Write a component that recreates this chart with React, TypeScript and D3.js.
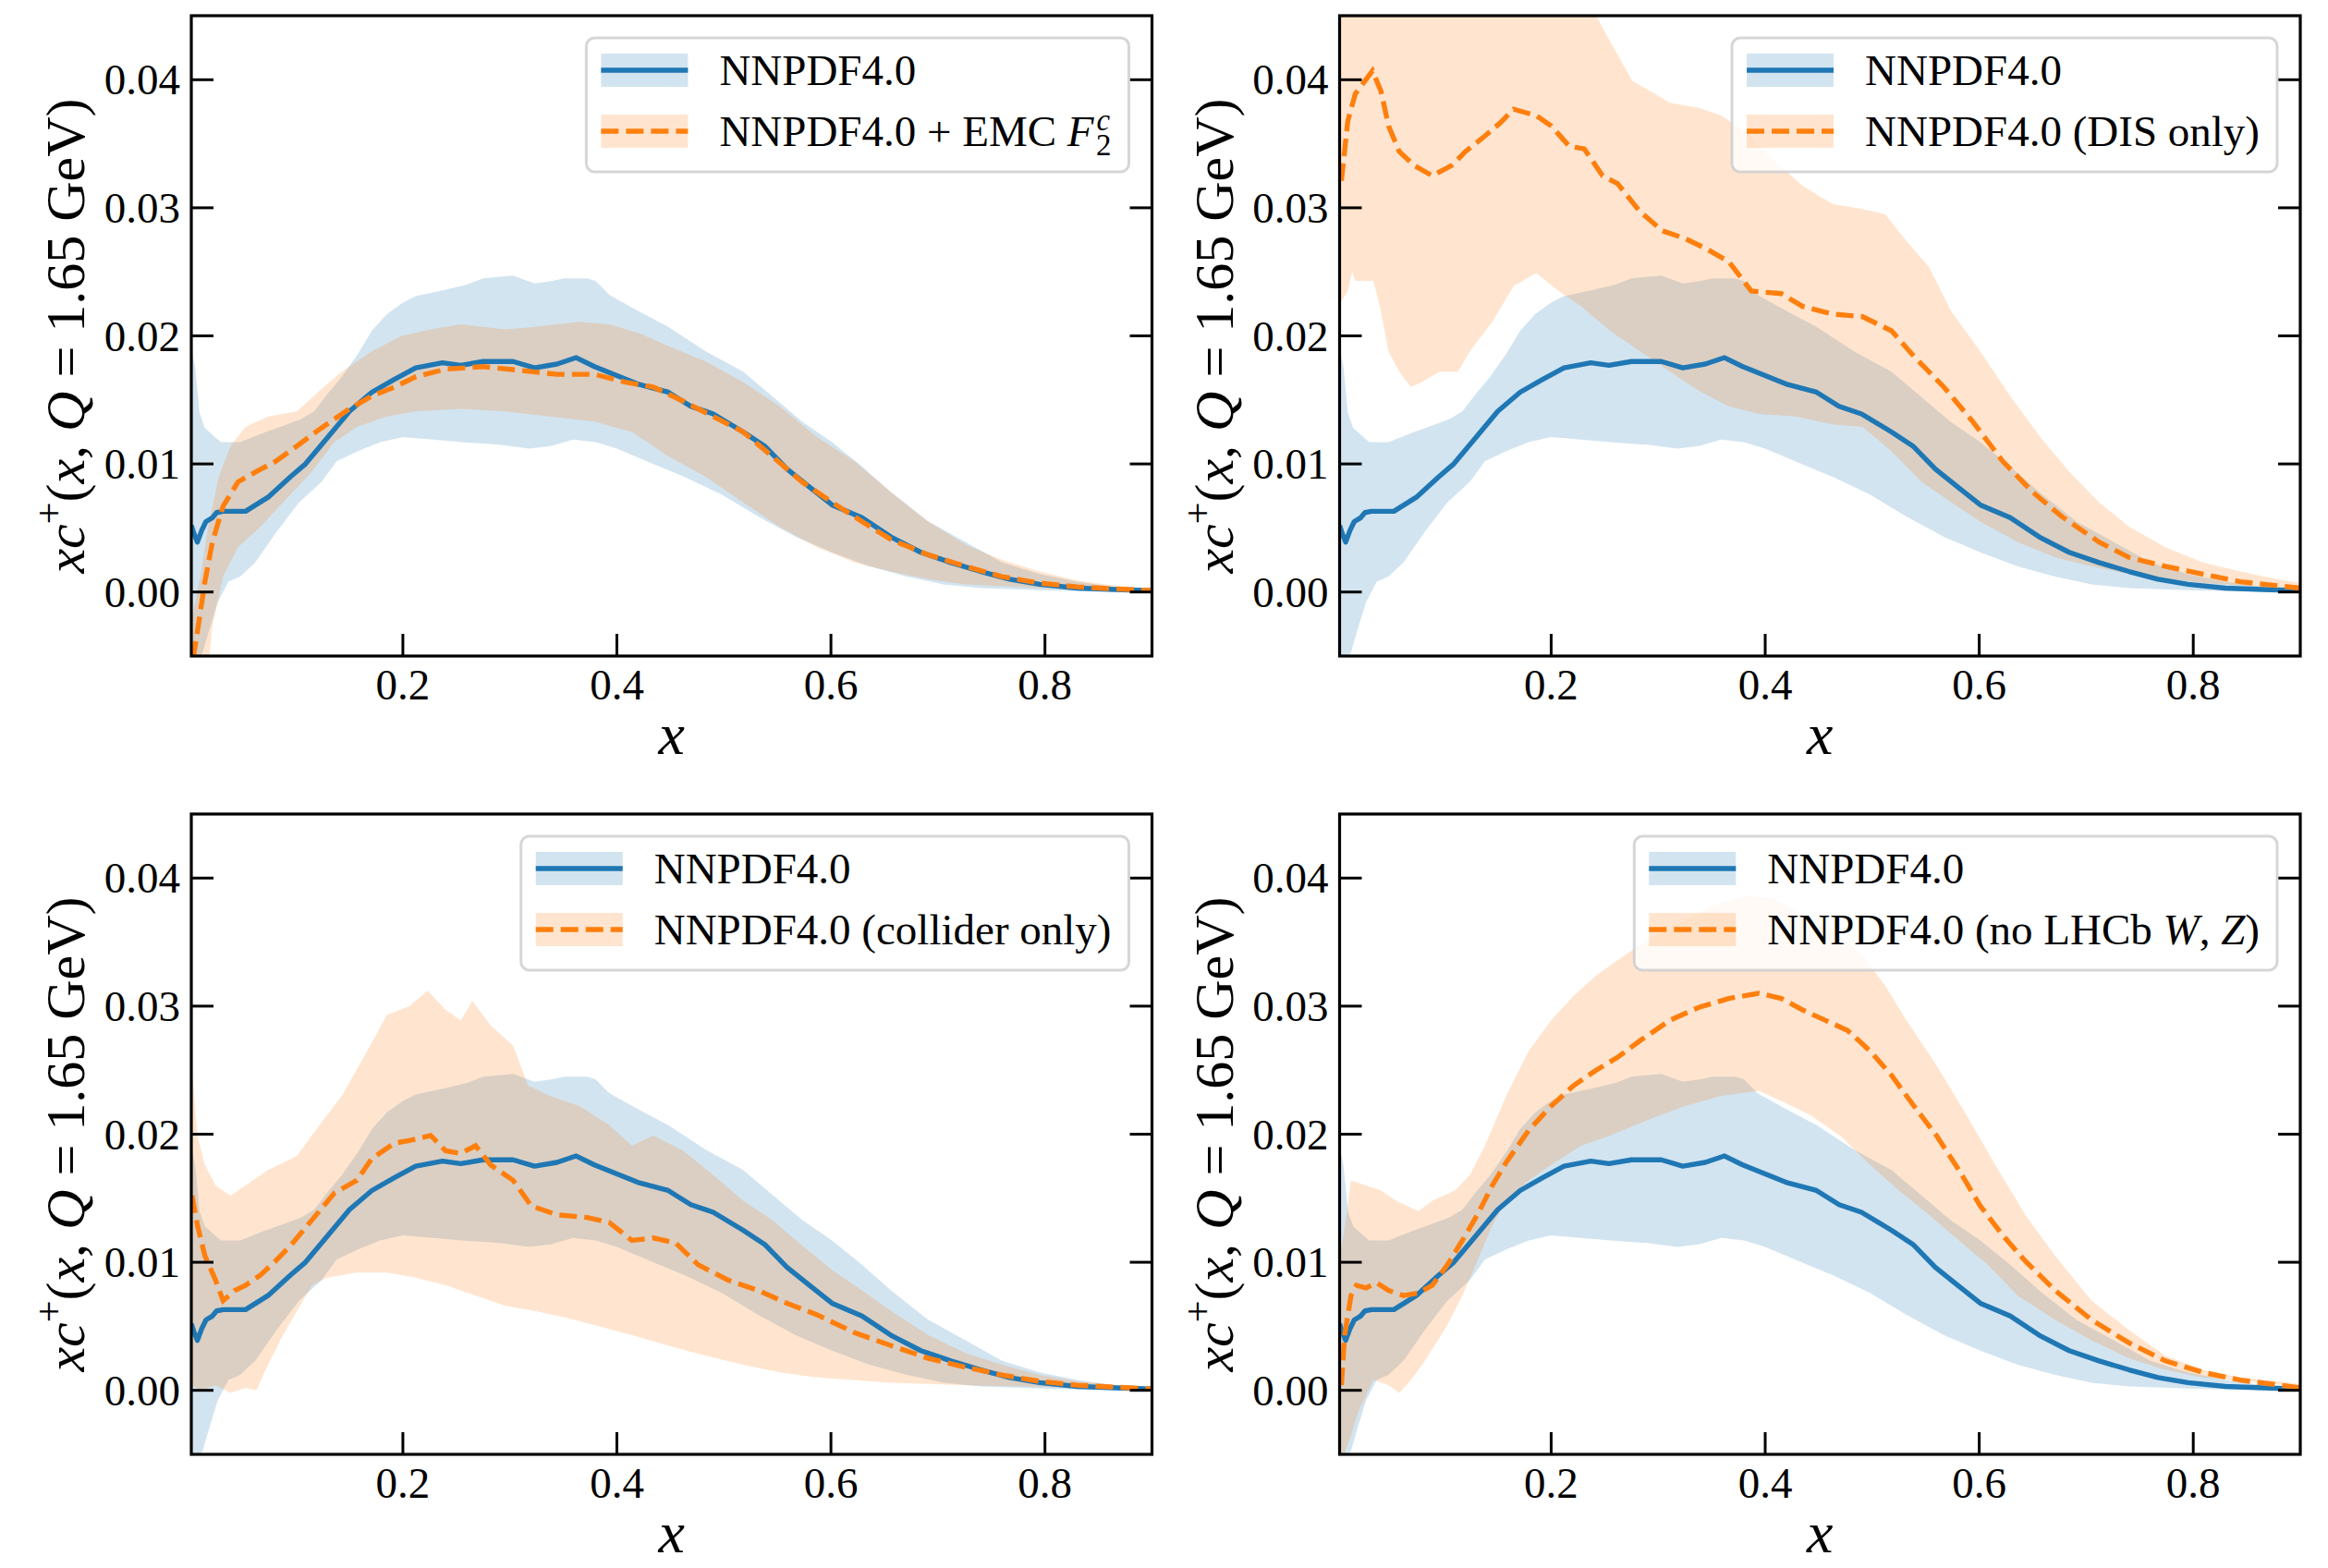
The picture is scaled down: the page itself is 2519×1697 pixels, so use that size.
import React, { useLayoutEffect, useRef, useState } from 'react';
import * as d3 from 'd3';

type P = [number, number];

// ---------- axes ----------
const X_DOMAIN: [number, number] = [0.0023, 0.9];
const Y_DOMAIN: [number, number] = [-0.005, 0.045];
const X_TICKS = [0.2, 0.4, 0.6, 0.8];
const X_TICK_LABELS = ['0.2', '0.4', '0.6', '0.8'];
const Y_TICKS = [0, 0.01, 0.02, 0.03, 0.04];
const Y_TICK_LABELS = ['0.00', '0.01', '0.02', '0.03', '0.04'];

// ---------- NNPDF4.0 baseline (same in all panels) ----------
const BLUE_MEAN: P[] = [
  [0.0023, 0.0052], [0.005, 0.0045], [0.008, 0.0039], [0.012, 0.0048], [0.016, 0.0055], [0.022, 0.0058],
  [0.026, 0.0062], [0.032, 0.0063], [0.053, 0.0063], [0.074, 0.0074], [0.095, 0.009], [0.109, 0.0100],
  [0.13, 0.0121], [0.15, 0.0141], [0.171, 0.0156], [0.192, 0.0166], [0.212, 0.0175], [0.237, 0.0179],
  [0.254, 0.0177], [0.275, 0.0180], [0.303, 0.0180], [0.323, 0.0175], [0.344, 0.0178], [0.362, 0.0183],
  [0.379, 0.0176], [0.4, 0.0169], [0.421, 0.0162], [0.448, 0.0156], [0.469, 0.0145], [0.49, 0.0139],
  [0.518, 0.0125], [0.538, 0.0114], [0.559, 0.0096], [0.58, 0.0082], [0.601, 0.0068], [0.629, 0.0058],
  [0.656, 0.0043], [0.684, 0.0031], [0.712, 0.0023], [0.74, 0.0016], [0.767, 0.001], [0.795, 0.0006],
  [0.83, 0.0003], [0.865, 0.0002], [0.9, 0.0001],
];
const BLUE_UP: P[] = [
  [0.0023, 0.019], [0.006, 0.0175], [0.01, 0.014], [0.015, 0.0128], [0.023, 0.0122], [0.03, 0.0117],
  [0.048, 0.0117], [0.069, 0.0124], [0.089, 0.013], [0.105, 0.0135], [0.117, 0.0141], [0.13, 0.0155],
  [0.143, 0.0168], [0.158, 0.0186], [0.171, 0.0204], [0.185, 0.0217], [0.2, 0.0226], [0.212, 0.0231],
  [0.24, 0.0236], [0.26, 0.024], [0.275, 0.0245], [0.303, 0.0247], [0.323, 0.0241], [0.34, 0.0243],
  [0.351, 0.0245], [0.372, 0.0245], [0.38, 0.0243], [0.393, 0.0232], [0.41, 0.0224], [0.421, 0.0219],
  [0.448, 0.0207], [0.483, 0.0188], [0.518, 0.0172], [0.545, 0.0153], [0.573, 0.0133], [0.601, 0.0117],
  [0.629, 0.0098], [0.656, 0.0078], [0.691, 0.0055], [0.726, 0.0039], [0.76, 0.0023], [0.795, 0.0014],
  [0.83, 0.0008], [0.865, 0.0004], [0.9, 0.0002],
];
const BLUE_LO: P[] = [
  [0.0023, -0.006], [0.013, -0.0047], [0.02, -0.0027], [0.027, -0.0008], [0.037, 0.0008], [0.048, 0.0012],
  [0.062, 0.0023], [0.082, 0.0047], [0.103, 0.007], [0.124, 0.0086], [0.138, 0.0102], [0.158, 0.011],
  [0.179, 0.0117], [0.2, 0.0121], [0.228, 0.0119], [0.255, 0.0117], [0.29, 0.0115], [0.318, 0.0112],
  [0.338, 0.0114], [0.359, 0.0119], [0.38, 0.0117], [0.4, 0.0112], [0.428, 0.0102], [0.463, 0.009],
  [0.498, 0.0076], [0.532, 0.0059], [0.567, 0.0043], [0.601, 0.0031], [0.636, 0.002], [0.671, 0.0012],
  [0.705, 0.0006], [0.74, 0.0003], [0.809, 0.0001], [0.9, 0],
];

// ---------- NNPDF4.0 + EMC F2c ----------
const EMC_MEAN: P[] = [
  [0.004, -0.0052], [0.008, -0.0031], [0.015, 0.0008], [0.022, 0.0039], [0.032, 0.0067], [0.046, 0.0086],
  [0.063, 0.0094], [0.081, 0.0102], [0.101, 0.0114], [0.122, 0.0127], [0.15, 0.0143], [0.171, 0.0153],
  [0.192, 0.016], [0.212, 0.0168], [0.24, 0.0174], [0.275, 0.0176], [0.31, 0.0173], [0.344, 0.017],
  [0.379, 0.017], [0.407, 0.0164], [0.434, 0.016], [0.462, 0.0149], [0.49, 0.0137], [0.518, 0.0125],
  [0.545, 0.0106], [0.573, 0.0086], [0.601, 0.007], [0.629, 0.0055], [0.656, 0.0041], [0.691, 0.0029],
  [0.726, 0.002], [0.76, 0.0012], [0.795, 0.0007], [0.83, 0.0004], [0.9, 0.0001],
];
const EMC_UP: P[] = [
  [0.0023, -0.0022], [0.011, 0.0012], [0.018, 0.0051], [0.028, 0.009], [0.039, 0.0114], [0.053, 0.0129],
  [0.074, 0.0137], [0.101, 0.0141], [0.122, 0.0157], [0.143, 0.0172], [0.171, 0.0188], [0.199, 0.02],
  [0.226, 0.0205], [0.254, 0.0209], [0.296, 0.0205], [0.323, 0.0207], [0.365, 0.0211], [0.393, 0.0209],
  [0.421, 0.0202], [0.448, 0.0192], [0.483, 0.018], [0.518, 0.0164], [0.552, 0.0145], [0.587, 0.0121],
  [0.622, 0.0102], [0.656, 0.0078], [0.691, 0.0055], [0.726, 0.0037], [0.76, 0.0025], [0.795, 0.0016],
  [0.83, 0.0009], [0.865, 0.0005], [0.9, 0.0002],
];
const EMC_LO: P[] = [
  [0.0023, -0.006], [0.018, -0.006], [0.022, -0.0027], [0.032, 0.0012], [0.046, 0.0035], [0.067, 0.0051],
  [0.088, 0.007], [0.115, 0.0094], [0.136, 0.0117], [0.157, 0.0129], [0.185, 0.0137], [0.212, 0.0141],
  [0.254, 0.0143], [0.296, 0.0141], [0.337, 0.0137], [0.379, 0.0133], [0.414, 0.0125], [0.448, 0.0106],
  [0.483, 0.009], [0.518, 0.007], [0.552, 0.0051], [0.587, 0.0035], [0.622, 0.0023], [0.656, 0.0016],
  [0.691, 0.001], [0.726, 0.0006], [0.795, 0.0003], [0.9, 0.0001],
];

// ---------- NNPDF4.0 (DIS only) ----------
const DIS_MEAN: P[] = [
  [0.004, 0.0321], [0.01, 0.0368], [0.017, 0.0389], [0.026, 0.0399], [0.033, 0.0407], [0.041, 0.0391],
  [0.048, 0.0364], [0.058, 0.0344], [0.072, 0.0333], [0.089, 0.0325], [0.107, 0.0333], [0.12, 0.0344],
  [0.138, 0.0356], [0.152, 0.0366], [0.165, 0.0377], [0.186, 0.0372], [0.2, 0.0364], [0.217, 0.0348],
  [0.231, 0.0346], [0.248, 0.0325], [0.262, 0.0319], [0.283, 0.0297], [0.304, 0.0282], [0.325, 0.0276],
  [0.345, 0.0268], [0.366, 0.0258], [0.387, 0.0235], [0.415, 0.0233], [0.435, 0.0223], [0.463, 0.0217],
  [0.491, 0.0215], [0.518, 0.0204], [0.539, 0.0184], [0.567, 0.016], [0.594, 0.0133], [0.622, 0.0102],
  [0.65, 0.0078], [0.677, 0.0059], [0.712, 0.0039], [0.74, 0.0027], [0.774, 0.002], [0.809, 0.0014],
  [0.844, 0.0008], [0.9, 0.0003],
];
const DIS_UP: P[] = [
  [0.0023, 0.05], [0.235, 0.05], [0.242, 0.045], [0.255, 0.043], [0.276, 0.0399], [0.297, 0.0389],
  [0.311, 0.0382], [0.338, 0.0378], [0.359, 0.0372], [0.38, 0.036], [0.408, 0.0337], [0.435, 0.0317],
  [0.463, 0.0303], [0.491, 0.0299], [0.512, 0.0295], [0.532, 0.0274], [0.553, 0.0254], [0.574, 0.0219],
  [0.601, 0.0188], [0.629, 0.0153], [0.657, 0.0121], [0.684, 0.0094], [0.712, 0.007], [0.74, 0.0051],
  [0.774, 0.0035], [0.809, 0.0023], [0.844, 0.0016], [0.878, 0.001], [0.9, 0.0007],
];
const DIS_LO: P[] = [
  [0.0023, 0.0225], [0.01, 0.0235], [0.014, 0.025], [0.017, 0.0243], [0.034, 0.0243], [0.041, 0.0219],
  [0.048, 0.0188], [0.058, 0.0172], [0.069, 0.016], [0.079, 0.0164], [0.096, 0.0172], [0.113, 0.0172],
  [0.124, 0.0188], [0.145, 0.0211], [0.165, 0.0239], [0.186, 0.0249], [0.207, 0.0235], [0.228, 0.0223],
  [0.255, 0.0204], [0.283, 0.0188], [0.311, 0.0172], [0.338, 0.0157], [0.366, 0.0145], [0.394, 0.0139],
  [0.428, 0.0137], [0.463, 0.0131], [0.491, 0.0129], [0.518, 0.011], [0.546, 0.0086], [0.574, 0.007],
  [0.601, 0.0055], [0.636, 0.0039], [0.671, 0.0027], [0.705, 0.002], [0.74, 0.0014], [0.809, 0.0007],
  [0.9, 0.0002],
];

// ---------- NNPDF4.0 (collider only) ----------
const COL_MEAN: P[] = [
  [0.003, 0.0152], [0.008, 0.0129], [0.015, 0.0105], [0.025, 0.0086], [0.032, 0.007], [0.043, 0.0078],
  [0.053, 0.0082], [0.067, 0.009], [0.081, 0.0101], [0.095, 0.0113], [0.115, 0.0133], [0.136, 0.0154],
  [0.157, 0.0164], [0.171, 0.0181], [0.192, 0.0193], [0.206, 0.0195], [0.226, 0.0199], [0.24, 0.0187],
  [0.254, 0.0185], [0.268, 0.0191], [0.282, 0.0176], [0.303, 0.0164], [0.32, 0.0144], [0.344, 0.0137],
  [0.372, 0.0135], [0.393, 0.0131], [0.414, 0.0117], [0.434, 0.0119], [0.455, 0.0115], [0.476, 0.0098],
  [0.504, 0.0086], [0.532, 0.0078], [0.559, 0.0068], [0.587, 0.0059], [0.622, 0.0045], [0.656, 0.0035],
  [0.691, 0.0025], [0.726, 0.0018], [0.76, 0.0012], [0.795, 0.0007], [0.83, 0.0004], [0.9, 0.0001],
];
const COL_UP: P[] = [
  [0.0023, 0.0258], [0.008, 0.0199], [0.015, 0.0176], [0.025, 0.016], [0.039, 0.0152], [0.053, 0.016],
  [0.074, 0.0172], [0.101, 0.0183], [0.122, 0.0207], [0.143, 0.023], [0.164, 0.0261], [0.185, 0.0293],
  [0.206, 0.03], [0.223, 0.0312], [0.24, 0.0297], [0.254, 0.0289], [0.265, 0.0304], [0.282, 0.0285],
  [0.303, 0.0269], [0.317, 0.0238], [0.337, 0.023], [0.365, 0.0222], [0.393, 0.0207], [0.414, 0.0191],
  [0.434, 0.0199], [0.462, 0.0187], [0.49, 0.0168], [0.518, 0.0148], [0.545, 0.0133], [0.573, 0.0113],
  [0.601, 0.0094], [0.629, 0.0078], [0.656, 0.0062], [0.691, 0.0043], [0.726, 0.0029], [0.76, 0.002],
  [0.795, 0.0012], [0.83, 0.0007], [0.9, 0.0002],
];
const COL_LO: P[] = [
  [0.0023, 0.0004], [0.011, 0.0], [0.025, 0.0004], [0.039, -0.0002], [0.053, 0.0002], [0.063, 0.0],
  [0.074, 0.002], [0.088, 0.0043], [0.101, 0.0062], [0.115, 0.0082], [0.129, 0.0088], [0.157, 0.0092],
  [0.185, 0.0092], [0.212, 0.0088], [0.24, 0.0082], [0.268, 0.0074], [0.296, 0.0066], [0.323, 0.0062],
  [0.351, 0.0057], [0.379, 0.0051], [0.414, 0.0043], [0.448, 0.0035], [0.483, 0.0027], [0.518, 0.002],
  [0.552, 0.0014], [0.587, 0.001], [0.656, 0.0006], [0.726, 0.0004], [0.9, 0.0001],
];

// ---------- NNPDF4.0 (no LHCb W, Z) ----------
const NOLHCB_MEAN: P[] = [
  [0.004, 0.0004], [0.007, 0.0043], [0.013, 0.0074], [0.018, 0.0082], [0.027, 0.008], [0.037, 0.0084],
  [0.048, 0.0078], [0.062, 0.0074], [0.076, 0.0076], [0.089, 0.0082], [0.103, 0.0098], [0.117, 0.0117],
  [0.131, 0.0137], [0.145, 0.016], [0.158, 0.0178], [0.179, 0.0203], [0.2, 0.0222], [0.221, 0.0238],
  [0.242, 0.025], [0.262, 0.026], [0.283, 0.0273], [0.311, 0.0289], [0.338, 0.0299], [0.366, 0.0306],
  [0.394, 0.031], [0.415, 0.0306], [0.435, 0.0297], [0.456, 0.0289], [0.477, 0.0281], [0.498, 0.0265],
  [0.518, 0.0246], [0.539, 0.0222], [0.56, 0.0199], [0.581, 0.0172], [0.601, 0.0144], [0.622, 0.0121],
  [0.643, 0.0101], [0.671, 0.0078], [0.705, 0.0055], [0.74, 0.0037], [0.774, 0.0023], [0.809, 0.0014],
  [0.844, 0.0008], [0.9, 0.0002],
];
const NOLHCB_UP: P[] = [
  [0.0023, 0.0105], [0.006, 0.0121], [0.013, 0.0164], [0.027, 0.016], [0.041, 0.0156], [0.055, 0.0148],
  [0.076, 0.014], [0.089, 0.0148], [0.11, 0.0156], [0.124, 0.0168], [0.138, 0.0191], [0.158, 0.023],
  [0.179, 0.0265], [0.2, 0.0289], [0.221, 0.0308], [0.242, 0.0324], [0.269, 0.034], [0.297, 0.0355],
  [0.325, 0.0367], [0.352, 0.0379], [0.38, 0.0386], [0.408, 0.0384], [0.435, 0.0371], [0.463, 0.0359],
  [0.491, 0.034], [0.512, 0.0316], [0.532, 0.0289], [0.56, 0.0254], [0.588, 0.0215], [0.615, 0.0176],
  [0.643, 0.0137], [0.671, 0.0105], [0.705, 0.007], [0.74, 0.0047], [0.774, 0.0027], [0.809, 0.0016],
  [0.844, 0.001], [0.9, 0.0005],
];
const NOLHCB_LO: P[] = [
  [0.0023, -0.006], [0.013, -0.0035], [0.02, -0.0016], [0.034, 0.0008], [0.048, 0.0004], [0.058, -0.0002],
  [0.069, 0.0008], [0.082, 0.0023], [0.103, 0.0051], [0.117, 0.0074], [0.131, 0.0101], [0.145, 0.0129],
  [0.158, 0.0148], [0.179, 0.0164], [0.2, 0.0176], [0.228, 0.0191], [0.255, 0.0199], [0.29, 0.0211],
  [0.325, 0.0222], [0.359, 0.023], [0.394, 0.0234], [0.415, 0.0226], [0.442, 0.0215], [0.47, 0.0199],
  [0.498, 0.0176], [0.525, 0.0156], [0.553, 0.0137], [0.581, 0.0117], [0.608, 0.0098], [0.636, 0.0074],
  [0.671, 0.0055], [0.705, 0.0039], [0.74, 0.0025], [0.774, 0.0016], [0.809, 0.001], [0.9, 0.0003],
];

// ---------- styles ----------
const BLUE = '#1f77b4';
const ORANGE = '#ff7f0e';
const BAND_ALPHA = 0.2;
const FONT = "'Liberation Serif', 'DejaVu Serif', serif";
const TICK_FS = 47;
const LABEL_FS = 60;
const XLABEL_FS = 64;
const LINE_W = 5.4;
const DASH = '19,8';

const W = 2519;
const H = 1697;
const PANEL_W = 1039.5;
const PANEL_H = 693;
const PANEL_POS: P[] = [[207, 17], [1449.5, 17], [207, 881], [1449.5, 881]];

type Variant = 'emc' | 'dis' | 'col' | 'nolhcb';
const PANELS: { mean: P[]; up: P[]; lo: P[]; variant: Variant }[] = [
  { mean: EMC_MEAN, up: EMC_UP, lo: EMC_LO, variant: 'emc' },
  { mean: DIS_MEAN, up: DIS_UP, lo: DIS_LO, variant: 'dis' },
  { mean: COL_MEAN, up: COL_UP, lo: COL_LO, variant: 'col' },
  { mean: NOLHCB_MEAN, up: NOLHCB_UP, lo: NOLHCB_LO, variant: 'nolhcb' },
];

function OrangeLabel({ variant }: { variant: Variant }) {
  const sub = TICK_FS * 0.7;
  if (variant === 'emc') {
    return (
      <>
        <tspan>NNPDF4.0 + EMC </tspan>
        <tspan fontStyle="italic">F</tspan>
        <tspan fontSize={sub} fontStyle="italic" dx={3} dy={-TICK_FS * 0.36}>c</tspan>
        <tspan fontSize={sub} dx={-sub * 0.46} dy={TICK_FS * 0.58}>2</tspan>
      </>
    );
  }
  if (variant === 'dis') return <tspan>NNPDF4.0 (DIS only)</tspan>;
  if (variant === 'col') return <tspan>NNPDF4.0 (collider only)</tspan>;
  return (
    <>
      <tspan>NNPDF4.0 (no LHCb </tspan>
      <tspan fontStyle="italic">W</tspan>
      <tspan>, </tspan>
      <tspan fontStyle="italic">Z</tspan>
      <tspan>)</tspan>
    </>
  );
}

function Legend({ right, top, variant }: { right: number; top: number; variant: Variant }) {
  const r1 = useRef<SVGTextElement>(null);
  const r2 = useRef<SVGTextElement>(null);
  const [tw, setTw] = useState(430);
  useLayoutEffect(() => {
    const a = r1.current ? r1.current.getBBox().width : 0;
    const b = r2.current ? r2.current.getBBox().width : 0;
    const m = Math.max(a, b);
    if (m > 0 && Math.abs(m - tw) > 0.5) setTw(m);
  });
  const width = 144 + tw + 19;
  const left = right - width;
  const height = 145;
  const row1 = top + 35;
  const row2 = top + 101;
  const hx = left + 16;
  const hw = 94;
  const ph = 36;
  const tx = left + 144;
  return (
    <g>
      <rect x={left} y={top} width={width} height={height} rx={9} ry={9}
        fill="white" fillOpacity={0.8} stroke="#cccccc" strokeOpacity={0.8} strokeWidth={3} />
      <rect x={hx} y={row1 - ph / 2} width={hw} height={ph} fill={BLUE} fillOpacity={BAND_ALPHA} />
      <line x1={hx} x2={hx + hw} y1={row1} y2={row1} stroke={BLUE} strokeWidth={LINE_W} />
      <rect x={hx} y={row2 - ph / 2} width={hw} height={ph} fill={ORANGE} fillOpacity={BAND_ALPHA} />
      <line x1={hx} x2={hx + hw} y1={row2} y2={row2} stroke={ORANGE} strokeWidth={LINE_W} strokeDasharray={DASH} />
      <text ref={r1} x={tx} y={row1 + 16} fontSize={TICK_FS} fontFamily={FONT}>NNPDF4.0</text>
      <text ref={r2} x={tx} y={row2 + 16} fontSize={TICK_FS} fontFamily={FONT}>
        <OrangeLabel variant={variant} />
      </text>
    </g>
  );
}

function Panel({ idx }: { idx: number }) {
  const [left, top] = PANEL_POS[idx];
  const right = left + PANEL_W;
  const bottom = top + PANEL_H;
  const d = PANELS[idx];
  const xs = d3.scaleLinear().domain(X_DOMAIN).range([left, right]);
  const ys = d3.scaleLinear().domain(Y_DOMAIN).range([bottom, top]);
  const line = d3.line<P>().x((p) => xs(p[0])).y((p) => ys(p[1]));
  const band = (up: P[], lo: P[]) => (line([...up, ...lo.slice().reverse()]) || '') + 'Z';
  const clipId = `clip-${idx}`;
  const tickLen = 24;
  const yLabelX = left - 116;
  const cy = (top + bottom) / 2;
  return (
    <g>
      <defs>
        <clipPath id={clipId}>
          <rect x={left} y={top} width={PANEL_W} height={PANEL_H} />
        </clipPath>
      </defs>
      <g clipPath={`url(#${clipId})`}>
        <path d={band(BLUE_UP, BLUE_LO)} fill={BLUE} fillOpacity={BAND_ALPHA} stroke="none" />
        <path d={band(d.up, d.lo)} fill={ORANGE} fillOpacity={BAND_ALPHA} stroke="none" />
        <path d={line(BLUE_MEAN) || ''} fill="none" stroke={BLUE} strokeWidth={LINE_W} strokeLinejoin="round" />
        <path d={line(d.mean) || ''} fill="none" stroke={ORANGE} strokeWidth={LINE_W} strokeDasharray={DASH} />
      </g>
      {Y_TICKS.map((t, i) => (
        <g key={`y${i}`}>
          <line x1={left} x2={left + tickLen} y1={ys(t)} y2={ys(t)} stroke="black" strokeWidth={3} />
          <line x1={right} x2={right - tickLen} y1={ys(t)} y2={ys(t)} stroke="black" strokeWidth={3} />
          <text x={left - 12} y={ys(t) + 16} textAnchor="end" fontSize={TICK_FS} fontFamily={FONT}>
            {Y_TICK_LABELS[i]}
          </text>
        </g>
      ))}
      {X_TICKS.map((t, i) => (
        <g key={`x${i}`}>
          <line x1={xs(t)} x2={xs(t)} y1={bottom} y2={bottom - tickLen} stroke="black" strokeWidth={3} />
          <text x={xs(t)} y={bottom + 47} textAnchor="middle" fontSize={TICK_FS} fontFamily={FONT}>
            {X_TICK_LABELS[i]}
          </text>
        </g>
      ))}
      <rect x={left} y={top} width={PANEL_W} height={PANEL_H} fill="none" stroke="black" strokeWidth={3.2} />
      <text x={(left + right) / 2} y={bottom + 106} textAnchor="middle" fontSize={XLABEL_FS}
        fontFamily={FONT} fontStyle="italic">x</text>
      <text transform={`translate(${yLabelX},${cy}) rotate(-90)`} textAnchor="middle" fontSize={LABEL_FS}
        fontFamily={FONT}>
        <tspan fontStyle="italic">xc</tspan>
        <tspan fontSize={LABEL_FS * 0.7} dy={-LABEL_FS * 0.4}>+</tspan>
        <tspan dy={LABEL_FS * 0.4}>(</tspan>
        <tspan fontStyle="italic">x</tspan>
        <tspan>, </tspan>
        <tspan fontStyle="italic">Q</tspan>
        <tspan> = 1.65 GeV)</tspan>
      </text>
      <Legend right={right - 25} top={top + 24} variant={d.variant} />
    </g>
  );
}

export default function App() {
  return (
    <svg width={W} height={H} viewBox={`0 0 ${W} ${H}`}
      style={{ position: 'absolute', left: 0, top: 0, background: 'white' }}>
      <rect x={0} y={0} width={W} height={H} fill="white" />
      {PANELS.map((_, i) => (
        <Panel key={i} idx={i} />
      ))}
    </svg>
  );
}
